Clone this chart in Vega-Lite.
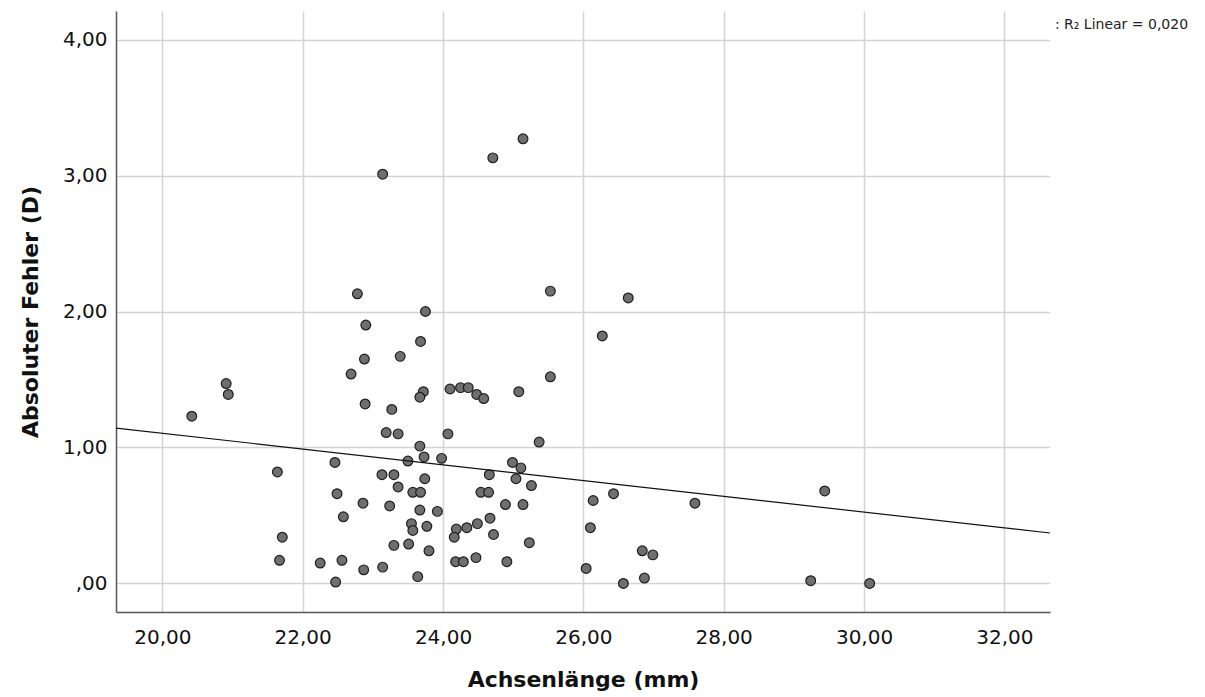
{
  "$schema": "https://vega.github.io/schema/vega-lite/v6.json",
  "width": 934,
  "height": 601,
  "autosize": {"type": "none"},
  "padding": {"left": 116, "top": 11, "right": 155, "bottom": 85},
  "background": "white",
  "view": {"stroke": null},
  "config": {
    "font": "DejaVu Sans",
    "axis": {
      "labelFont": "DejaVu Sans",
      "labelFontSize": 20,
      "labelColor": "#111111",
      "titleFont": "DejaVu Sans",
      "titleFontSize": 22,
      "titleFontWeight": "bold",
      "titleColor": "#111111",
      "gridColor": "#d4d4d4",
      "gridWidth": 1.5,
      "domainColor": "#555555",
      "domainWidth": 1.5,
      "ticks": false
    }
  },
  "datasets": {
    "pts": [
      {"achsenlaenge": 22.78, "fehler": 2.13},
      {"achsenlaenge": 23.75, "fehler": 2.00},
      {"achsenlaenge": 25.53, "fehler": 2.15},
      {"achsenlaenge": 22.90, "fehler": 1.90},
      {"achsenlaenge": 23.68, "fehler": 1.78},
      {"achsenlaenge": 26.27, "fehler": 1.82},
      {"achsenlaenge": 22.88, "fehler": 1.65},
      {"achsenlaenge": 23.39, "fehler": 1.67},
      {"achsenlaenge": 22.69, "fehler": 1.54},
      {"achsenlaenge": 25.53, "fehler": 1.52},
      {"achsenlaenge": 23.72, "fehler": 1.41},
      {"achsenlaenge": 23.67, "fehler": 1.37},
      {"achsenlaenge": 24.10, "fehler": 1.43},
      {"achsenlaenge": 24.25, "fehler": 1.44},
      {"achsenlaenge": 24.36, "fehler": 1.44},
      {"achsenlaenge": 24.48, "fehler": 1.39},
      {"achsenlaenge": 24.58, "fehler": 1.36},
      {"achsenlaenge": 25.08, "fehler": 1.41},
      {"achsenlaenge": 22.89, "fehler": 1.32},
      {"achsenlaenge": 23.27, "fehler": 1.28},
      {"achsenlaenge": 23.19, "fehler": 1.11},
      {"achsenlaenge": 23.36, "fehler": 1.10},
      {"achsenlaenge": 24.07, "fehler": 1.10},
      {"achsenlaenge": 23.67, "fehler": 1.01},
      {"achsenlaenge": 25.37, "fehler": 1.04},
      {"achsenlaenge": 21.64, "fehler": 0.82},
      {"achsenlaenge": 22.46, "fehler": 0.89},
      {"achsenlaenge": 23.73, "fehler": 0.93},
      {"achsenlaenge": 23.50, "fehler": 0.90},
      {"achsenlaenge": 23.98, "fehler": 0.92},
      {"achsenlaenge": 24.99, "fehler": 0.89},
      {"achsenlaenge": 25.11, "fehler": 0.85},
      {"achsenlaenge": 24.66, "fehler": 0.80},
      {"achsenlaenge": 25.04, "fehler": 0.77},
      {"achsenlaenge": 25.26, "fehler": 0.72},
      {"achsenlaenge": 23.13, "fehler": 0.80},
      {"achsenlaenge": 23.30, "fehler": 0.80},
      {"achsenlaenge": 23.74, "fehler": 0.77},
      {"achsenlaenge": 23.36, "fehler": 0.71},
      {"achsenlaenge": 23.57, "fehler": 0.67},
      {"achsenlaenge": 23.68, "fehler": 0.67},
      {"achsenlaenge": 24.54, "fehler": 0.67},
      {"achsenlaenge": 24.65, "fehler": 0.67},
      {"achsenlaenge": 22.49, "fehler": 0.66},
      {"achsenlaenge": 22.86, "fehler": 0.59},
      {"achsenlaenge": 23.24, "fehler": 0.57},
      {"achsenlaenge": 23.67, "fehler": 0.54},
      {"achsenlaenge": 23.92, "fehler": 0.53},
      {"achsenlaenge": 24.89, "fehler": 0.58},
      {"achsenlaenge": 25.14, "fehler": 0.58},
      {"achsenlaenge": 26.14, "fehler": 0.61},
      {"achsenlaenge": 22.58, "fehler": 0.49},
      {"achsenlaenge": 24.67, "fehler": 0.48},
      {"achsenlaenge": 23.55, "fehler": 0.44},
      {"achsenlaenge": 23.57, "fehler": 0.39},
      {"achsenlaenge": 23.77, "fehler": 0.42},
      {"achsenlaenge": 24.19, "fehler": 0.40},
      {"achsenlaenge": 24.34, "fehler": 0.41},
      {"achsenlaenge": 24.49, "fehler": 0.44},
      {"achsenlaenge": 24.16, "fehler": 0.34},
      {"achsenlaenge": 24.72, "fehler": 0.36},
      {"achsenlaenge": 26.10, "fehler": 0.41},
      {"achsenlaenge": 21.71, "fehler": 0.34},
      {"achsenlaenge": 23.30, "fehler": 0.28},
      {"achsenlaenge": 23.51, "fehler": 0.29},
      {"achsenlaenge": 23.80, "fehler": 0.24},
      {"achsenlaenge": 25.23, "fehler": 0.30},
      {"achsenlaenge": 21.67, "fehler": 0.17},
      {"achsenlaenge": 22.25, "fehler": 0.15},
      {"achsenlaenge": 22.56, "fehler": 0.17},
      {"achsenlaenge": 22.87, "fehler": 0.10},
      {"achsenlaenge": 23.14, "fehler": 0.12},
      {"achsenlaenge": 23.64, "fehler": 0.05},
      {"achsenlaenge": 24.18, "fehler": 0.16},
      {"achsenlaenge": 24.29, "fehler": 0.16},
      {"achsenlaenge": 24.47, "fehler": 0.19},
      {"achsenlaenge": 24.91, "fehler": 0.16},
      {"achsenlaenge": 26.04, "fehler": 0.11},
      {"achsenlaenge": 22.47, "fehler": 0.01},
      {"achsenlaenge": 26.43, "fehler": 0.66},
      {"achsenlaenge": 27.59, "fehler": 0.59},
      {"achsenlaenge": 29.44, "fehler": 0.68},
      {"achsenlaenge": 26.84, "fehler": 0.24},
      {"achsenlaenge": 26.99, "fehler": 0.21},
      {"achsenlaenge": 26.57, "fehler": 0.00},
      {"achsenlaenge": 26.87, "fehler": 0.04},
      {"achsenlaenge": 29.24, "fehler": 0.02},
      {"achsenlaenge": 30.08, "fehler": 0.00},
      {"achsenlaenge": 26.64, "fehler": 2.10},
      {"achsenlaenge": 23.14, "fehler": 3.01},
      {"achsenlaenge": 24.71, "fehler": 3.13},
      {"achsenlaenge": 25.14, "fehler": 3.27},
      {"achsenlaenge": 20.42, "fehler": 1.23},
      {"achsenlaenge": 20.91, "fehler": 1.47},
      {"achsenlaenge": 20.94, "fehler": 1.39}
    ],
    "fit": [
      {"achsenlaenge": 19.34, "fehler": 1.143},
      {"achsenlaenge": 32.65, "fehler": 0.371}
    ],
    "note": [
      {"achsenlaenge": 32.72, "fehler": 4.11, "label": ": R₂ Linear = 0,020"}
    ]
  },
  "layer": [
    {
      "data": {"name": "pts"},
      "mark": {"type": "point", "filled": true, "fill": "#6f6f6f", "stroke": "#1e1e1e", "strokeWidth": 1.2, "size": 95, "opacity": 1, "shape": "circle"},
      "encoding": {
        "x": {
          "field": "achsenlaenge", "type": "quantitative",
          "scale": {"domain": [19.34, 32.65], "nice": false, "zero": false},
          "axis": {
            "title": "Achsenlänge (mm)",
            "values": [20, 22, 24, 26, 28, 30, 32],
            "labelExpr": "replace(format(datum.value, '.2f'), '.', ',')",
            "labelPadding": 15,
            "titlePadding": 22
          }
        },
        "y": {
          "field": "fehler", "type": "quantitative",
          "scale": {"domain": [-0.21, 4.21], "nice": false, "zero": false},
          "axis": {
            "title": "Absoluter Fehler (D)",
            "values": [0, 1, 2, 3, 4],
            "labelExpr": "datum.value == 0 ? ',00' : replace(format(datum.value, '.2f'), '.', ',')",
            "labelPadding": 9,
            "titlePadding": 20
          }
        }
      }
    },
    {
      "data": {"name": "fit"},
      "mark": {"type": "line", "color": "#111111", "strokeWidth": 1.2},
      "encoding": {
        "x": {"field": "achsenlaenge", "type": "quantitative"},
        "y": {"field": "fehler", "type": "quantitative"}
      }
    },
    {
      "data": {"name": "note"},
      "mark": {"type": "text", "align": "left", "baseline": "middle", "font": "DejaVu Sans", "fontSize": 14, "color": "#222222"},
      "encoding": {
        "x": {"field": "achsenlaenge", "type": "quantitative"},
        "y": {"field": "fehler", "type": "quantitative"},
        "text": {"field": "label"}
      }
    }
  ]
}
